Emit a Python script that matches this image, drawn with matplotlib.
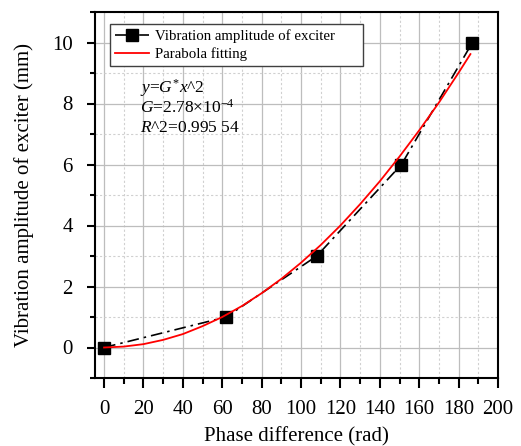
import matplotlib
matplotlib.use("Agg")
import matplotlib.pyplot as plt
from matplotlib.ticker import MultipleLocator

plt.rcParams["font.family"] = ["Liberation Serif", "DejaVu Serif"]
plt.rcParams["mathtext.fontset"] = "custom"
plt.rcParams["mathtext.rm"] = "Liberation Serif"
plt.rcParams["mathtext.it"] = "Liberation Serif:italic"

# measured points
PHASE = [0, 62, 108, 151, 187]
AMPLITUDE = [0, 1, 3, 6, 10]

# parabola fit
FIT_X = [0, 10, 20, 30, 40, 50, 60, 70, 80, 90, 100, 110, 120, 130, 140, 150, 160, 170, 180, 186]
FIT_Y = [0, 0.03, 0.11, 0.25, 0.44, 0.70, 1.00, 1.36, 1.78, 2.25, 2.78, 3.36, 4.00, 4.70, 5.45, 6.26, 7.12, 8.03, 9.01, 9.62]

XTICKS = list(range(0, 201, 20))
YTICKS = list(range(0, 11, 2))


def main() -> None:
    fig = plt.figure(figsize=(5.21, 4.46), dpi=100)
    ax = fig.add_axes([95 / 521, 1 - 378 / 446, 403 / 521, 366 / 446])

    ax.plot(PHASE, AMPLITUDE, color="black", linestyle=(0, (7, 3, 1.5, 3)), linewidth=1.2,
            marker="s", markersize=9, label="Vibration amplitude of exciter", zorder=3)
    ax.plot(FIT_X, FIT_Y, color="#ff0000", linewidth=1.3, label="Parabola fitting", zorder=4)

    ax.set_xlim(-4.6, 200)
    ax.set_ylim(-1, 11)
    ax.set_xticks(XTICKS)
    ax.set_yticks(YTICKS)
    ax.xaxis.set_minor_locator(MultipleLocator(10))
    ax.yaxis.set_minor_locator(MultipleLocator(1))
    ax.tick_params(axis="x", which="major", direction="out", length=7.5, width=1.5, labelsize=15, pad=8)
    ax.tick_params(axis="x", which="minor", direction="out", length=4.3, width=1.5)
    ax.tick_params(axis="y", which="major", direction="out", length=6, width=1.5, labelsize=15, pad=10)
    ax.tick_params(axis="y", which="minor", direction="out", length=3.6, width=1.5)
    for s in ax.spines.values():
        s.set_linewidth(1.5)

    ax.grid(True, which="major", color="#bdbdbd", linewidth=0.9)
    ax.grid(True, which="minor", color="#d0d0d0", linestyle=(0, (2, 2)), linewidth=0.8)
    ax.set_axisbelow(True)

    ax.set_xlabel("Phase difference (rad)", fontsize=15, labelpad=6)
    ax.set_ylabel("Vibration amplitude of exciter (mm)", fontsize=15, labelpad=13)

    leg = ax.legend(loc="upper left", fontsize=10.7, fancybox=False, framealpha=1,
                    edgecolor="#404040", borderaxespad=0, borderpad=0.35,
                    labelspacing=0.3, handlelength=2.3, handletextpad=0.4,
                    mode="expand", bbox_to_anchor=(15 / 403, 0, 253 / 403, 354 / 366))
    leg.get_frame().set_linewidth(1.0)

    ax.text(18, 8.52, r"$y$=$G^{*}x$^2", fontsize=12.5, va="center")
    ax.text(18, 7.86, r"$G$=2.78×10$^{-4}$", fontsize=12.5, va="center")
    ax.text(18, 7.2, r"$R$^2=0.995 54", fontsize=12.5, va="center")

    fig.savefig("out.png", dpi=100)


if __name__ == "__main__":
    main()
